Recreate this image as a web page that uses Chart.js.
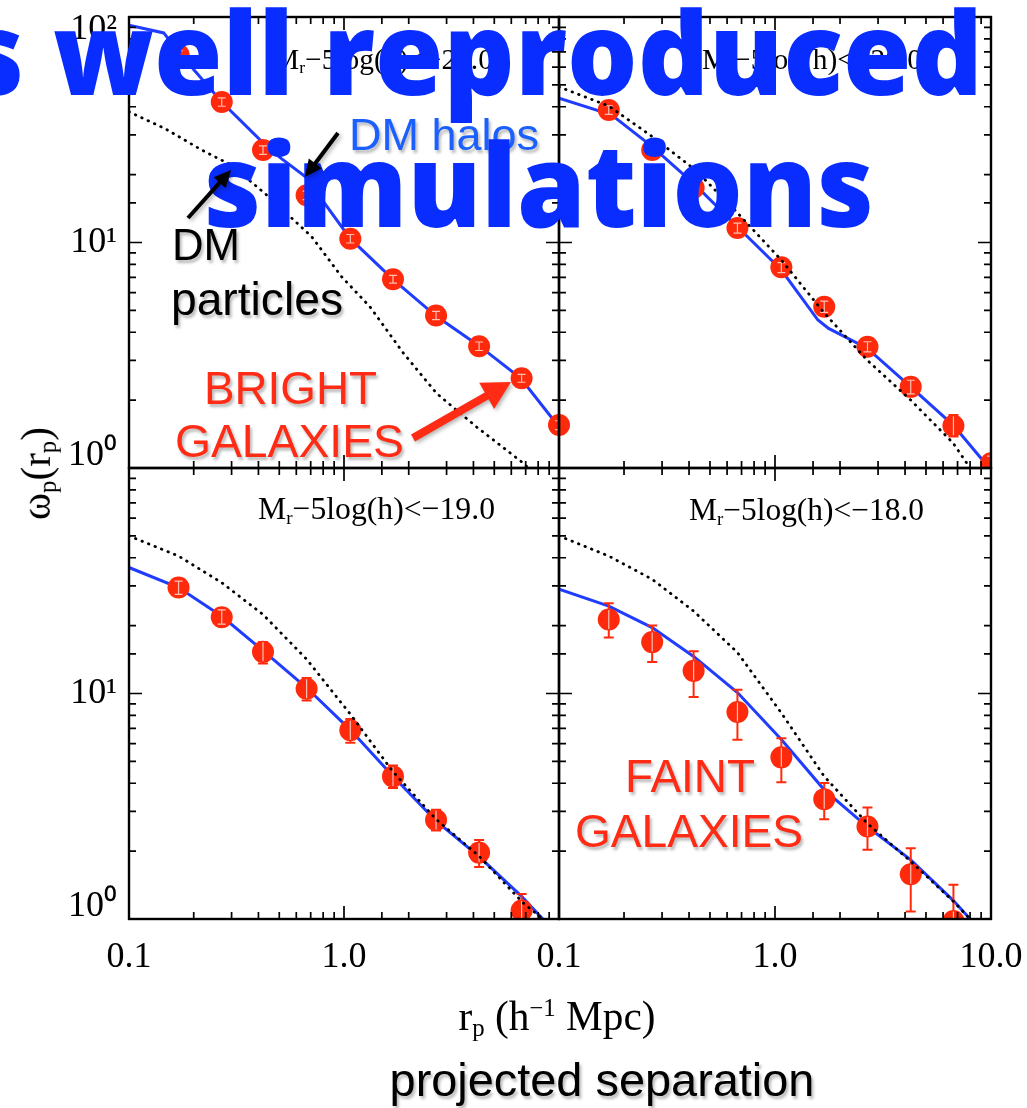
<!DOCTYPE html>
<html>
<head>
<meta charset="utf-8">
<title>projected correlation function</title>
<script src="https://cdn.jsdelivr.net/npm/chart.js@4/dist/chart.umd.min.js"></script>
<style>
  html, body { margin: 0; padding: 0; background: #fff; }
  #page { position: relative; width: 1027px; height: 1108px; overflow: hidden; background: #fff; }
  #page canvas { position: absolute; left: -40px; top: -40px; }
  .t { position: absolute; left: 0; top: 0; white-space: nowrap; line-height: 1; }
  .bl { display: inline-block; width: 0; height: 0; }
  .serif { font-family: "Liberation Serif", "DejaVu Serif", serif; color: #000; }
  .sans { font-family: "Liberation Sans", Arial, sans-serif; color: #000; text-shadow: 2px 3px 3px rgba(0,0,0,0.28); }
  .red { color: #ff2b14; }
  .title { font-family: "Open Sans", sans-serif; font-weight: 800; color: #0a2dff; }
  sub { font-size: 0.6em; vertical-align: -0.25em; line-height: 0; }
  sup { font-size: 0.6em; vertical-align: 0.55em; line-height: 0; }
  #arrows { position: absolute; left: 0; top: 0; filter: drop-shadow(2px 2px 2px rgba(0,0,0,0.3)); }
</style>
</head>
<body>
<div id="page">
  <canvas id="cTL" width="1107" height="1188"></canvas>
  <canvas id="cTR" width="1107" height="1188"></canvas>
  <canvas id="cBL" width="1107" height="1188"></canvas>
  <canvas id="cBR" width="1107" height="1188"></canvas>

  <div class="t serif" id="labTL">M<sub>r</sub>−5log(h)&lt;−21.0</div>
  <div class="t serif" id="labTR">M<sub>r</sub>−5log(h)&lt;−20.0</div>
  <div class="t serif" id="labBL">M<sub>r</sub>−5log(h)&lt;−19.0</div>
  <div class="t serif" id="labBR">M<sub>r</sub>−5log(h)&lt;−18.0</div>

  <div class="t serif" id="xtitle">r<sub>p</sub> (h<sup>−1</sup> Mpc)</div>
  <div class="t serif" id="ytitle">ω<sub>p</sub>(r<sub>p</sub>)</div>
  <div class="t sans" id="proj">projected separation</div>

  <div class="t sans" id="halos" style="color:#1c5fff">DM halos</div>
  <div class="t sans" id="dm1">DM</div>
  <div class="t sans" id="dm2">particles</div>
  <div class="t sans red" id="br1">BRIGHT</div>
  <div class="t sans red" id="br2">GALAXIES</div>
  <div class="t sans red" id="fa1">FAINT</div>
  <div class="t sans red" id="fa2">GALAXIES</div>

  <div class="t title" id="title1"><span>s </span><span class="m">well reproduced</span></div>
  <div class="t title" id="title2">simulations</div>

  <svg id="arrows" width="1027" height="1108"></svg>
</div>

<script>
// separations of the measured points (h^-1 Mpc)
const rp = [0.17, 0.27, 0.42, 0.67, 1.07, 1.69, 2.68, 4.25, 6.7, 10.0];

// Mr-5log(h) < -21.0
const wp21 = [68, 42, 25.7, 16.2, 10.4, 6.87, 4.75, 3.47, 2.5, 1.55];
const lo21 = [65, 40.2, 24.6, 15.5, 9.95, 6.6, 4.55, 3.32, 2.4, 1.48];
const hi21 = [71, 43.8, 26.8, 16.9, 10.85, 7.15, 4.95, 3.62, 2.6, 1.62];
const haloX21 = [0.1, 0.145, 0.17, 0.27, 0.445, 0.51, 0.66, 1.07, 1.69, 2.68, 4.27, 6.64, 10];
const haloY21 = [92, 85, 70, 42, 26.2, 23.6, 19.6, 10.4, 6.87, 4.72, 3.47, 2.5, 1.52];
const dotX21 = [0.1, 0.147, 0.218, 0.30, 0.445, 0.708, 0.975, 1.32, 1.89, 2.70, 4.14, 6.83, 7.6];
const dotY21 = [38, 32, 25.7, 22, 16, 10.6, 7.05, 5.19, 3.23, 2.14, 1.52, 1.05, 0.95];

// Mr-5log(h) < -20.0
const wp20 = [38.7, 25.7, 17.5, 11.6, 7.76, 5.19, 3.45, 2.29, 1.54, 1.05];
const lo20 = [37.0, 24.4, 16.6, 11.0, 7.35, 4.9, 3.27, 2.13, 1.38, 0.97];
const hi20 = [40.4, 27.0, 18.4, 12.2, 8.15, 5.5, 3.63, 2.45, 1.72, 1.13];
const haloX20 = [0.1, 0.175, 0.27, 0.427, 0.67, 1.07, 1.58, 1.77, 2.67, 4.25, 6.68, 9.4, 11];
const haloY20 = [43.6, 36.8, 26.6, 18, 11.75, 7.55, 4.53, 4.16, 3.4, 2.29, 1.55, 1.05, 0.85];
const dotX20 = [0.1, 0.17, 0.27, 0.427, 0.653, 1.07, 1.69, 2.67, 4.25, 6.68, 8.0, 9.0];
const dotY20 = [49, 40.3, 29.5, 21, 13.9, 8.36, 4.87, 3.01, 2.0, 1.29, 1.0, 0.88];

// Mr-5log(h) < -19.0
const wp19 = [29.5, 21.8, 15.3, 10.5, 6.87, 4.29, 2.75, 1.97, 1.09];
const lo19 = [27.5, 20.3, 13.6, 9.3, 6.05, 3.81, 2.47, 1.70, 0.9];
const hi19 = [31.5, 23.5, 16.9, 11.7, 7.7, 4.79, 3.05, 2.24, 1.29];
const haloX19 = [0.1, 0.17, 0.27, 0.42, 0.67, 1.07, 1.69, 2.68, 4.25, 6.7, 8.41, 9.5];
const haloY19 = [36.2, 29.5, 22.0, 15.5, 10.6, 6.9, 4.3, 2.72, 1.89, 1.26, 1.0, 0.88];
const dotX19 = [0.1, 0.17, 0.27, 0.42, 0.67, 1.07, 1.69, 2.68, 4.25, 6.8, 8.4, 9.5];
const dotY19 = [50, 40.7, 31, 22.4, 14.2, 8.1, 4.5, 2.77, 1.9, 1.18, 1.0, 0.88];

// Mr-5log(h) < -18.0
const wp18 = [21.3, 16.9, 12.6, 8.28, 5.21, 3.40, 2.57, 1.58, 0.98];
const lo18 = [17.7, 13.8, 9.65, 6.24, 4.04, 2.77, 2.03, 1.08, 0.6];
const hi18 = [25.1, 20.0, 15.4, 10.4, 6.34, 4.01, 3.12, 2.06, 1.42];
const haloX18 = [0.1, 0.17, 0.27, 0.42, 0.67, 1.07, 1.69, 2.67, 4.25, 6.68, 8.0, 9.5];
const haloY18 = [29, 24.4, 19.6, 14.6, 10.1, 6.25, 3.74, 2.57, 1.83, 1.21, 1.0, 0.82];
const dotX18 = [0.1, 0.17, 0.27, 0.42, 0.67, 1.07, 1.69, 2.67, 4.25, 6.68, 8.0, 9.5];
const dotY18 = [50, 40.7, 32.1, 23.2, 15.2, 8.2, 4.29, 2.66, 1.8, 1.2, 1.0, 0.82];

const xTickText = { '-1': '0.1', '0': '1.0', '1': '10.0' };
const yTickText = { '0': '10⁰', '1': '10¹', '2': '10²' };

//

const OFF = 40, PAGE_W = 1027, PAGE_H = 1108;
const RED = '#ff2a0c';

const decade = (v) => {
  const l = Math.log10(v);
  return Math.abs(l - Math.round(l)) < 1e-6 ? Math.round(l) : null;
};
const pts = (xs, ys) => xs.map((x, i) => ({ x: x, y: ys[i] }));

const errInfo = {};

const clipArea = (ctx, a) => {
  ctx.beginPath();
  ctx.rect(a.left, a.top, a.right - a.left, a.bottom - a.top);
  ctx.clip();
};

// error bars: red under the dots, pale over them
const errBars = {
  id: 'errBars',
  beforeDatasetDraw(chart, args) {
    const e = errInfo[chart.canvas.id];
    if (!e || args.index !== 1) return;
    const ctx = chart.ctx, xs = chart.scales.x, ys = chart.scales.y;
    ctx.save();
    clipArea(ctx, chart.chartArea);
    ctx.strokeStyle = RED;
    ctx.lineWidth = 2;
    ctx.beginPath();
    e.y.forEach((v, i) => {
      const px = xs.getPixelForValue(e.x[i]);
      const t = ys.getPixelForValue(e.hi[i]), b = ys.getPixelForValue(e.lo[i]);
      ctx.moveTo(px, t); ctx.lineTo(px, b);
      ctx.moveTo(px - 5, t); ctx.lineTo(px + 5, t);
      ctx.moveTo(px - 5, b); ctx.lineTo(px + 5, b);
    });
    ctx.stroke();
    ctx.restore();
  },
  afterDatasetDraw(chart, args) {
    const e = errInfo[chart.canvas.id];
    if (!e || args.index !== 1) return;
    const ctx = chart.ctx, xs = chart.scales.x, ys = chart.scales.y;
    const r = 9.5;
    ctx.save();
    clipArea(ctx, chart.chartArea);
    ctx.strokeStyle = 'rgba(255,200,190,0.95)';
    ctx.lineWidth = 1.2;
    ctx.beginPath();
    e.y.forEach((v, i) => {
      const px = xs.getPixelForValue(e.x[i]), cy = ys.getPixelForValue(v);
      const t = ys.getPixelForValue(e.hi[i]), b = ys.getPixelForValue(e.lo[i]);
      const tt = Math.max(t, cy - r), bb = Math.min(b, cy + r);
      ctx.moveTo(px, tt); ctx.lineTo(px, bb);
      if (t >= cy - r) { ctx.moveTo(px - 4, t); ctx.lineTo(px + 4, t); }
      if (b <= cy + r) { ctx.moveTo(px - 4, b); ctx.lineTo(px + 4, b); }
    });
    ctx.stroke();
    ctx.restore();
  },
};

// box and inward ticks on all four sides
const frameTicks = {
  id: 'frameTicks',
  afterDraw(chart) {
    const ctx = chart.ctx, a = chart.chartArea;
    const xs = chart.scales.x, ys = chart.scales.y;
    ctx.save();
    ctx.strokeStyle = '#000';
    ctx.lineWidth = 1.7;
    ctx.beginPath();
    xs.ticks.forEach((t) => {
      const px = xs.getPixelForValue(t.value);
      const len = decade(t.value) !== null ? 13 : 7;
      ctx.moveTo(px, a.bottom); ctx.lineTo(px, a.bottom - len);
      ctx.moveTo(px, a.top); ctx.lineTo(px, a.top + len);
    });
    ys.ticks.forEach((t) => {
      const py = ys.getPixelForValue(t.value);
      const len = decade(t.value) !== null ? 13 : 7;
      ctx.moveTo(a.left, py); ctx.lineTo(a.left + len, py);
      ctx.moveTo(a.right, py); ctx.lineTo(a.right - len, py);
    });
    ctx.stroke();
    ctx.lineWidth = 2.4;
    ctx.strokeRect(a.left, a.top, a.right - a.left, a.bottom - a.top);
    ctx.restore();
  },
};

Chart.register(errBars, frameTicks);

const makePanel = (id, area, p) => {
  const yW = p.yCb ? 100 : 0, xH = p.xCb ? 60 : 0;
  errInfo[id] = { x: rp, y: p.wp, lo: p.lo, hi: p.hi };
  const tickFont = { family: 'Liberation Serif', size: 36, lineHeight: 0.7 };
  return new Chart(document.getElementById(id), {
    type: 'scatter',
    data: {
      datasets: [
        {
          data: pts(p.dotX, p.dotY), showLine: true, borderColor: '#000', borderWidth: 2.8,
          borderDash: [0.5, 6.5], borderCapStyle: 'round', pointRadius: 0, order: 0,
        },
        {
          data: pts(rp.slice(0, p.wp.length), p.wp), pointRadius: 11, pointBorderWidth: 0,
          backgroundColor: RED, borderColor: RED, order: 1, clip: p.clip || 0,
        },
        {
          data: pts(p.haloX, p.haloY), showLine: true, borderColor: '#1f3cff', borderWidth: 3,
          pointRadius: 0, order: 2,
        },
      ],
    },
    options: {
      responsive: false,
      animation: false,
      events: [],
      layout: {
        autoPadding: false,
        padding: {
          left: area.l + OFF - yW,
          top: area.t + OFF,
          right: PAGE_W + OFF - area.r,
          bottom: PAGE_H + OFF - area.b - xH,
        },
      },
      plugins: { legend: { display: false }, tooltip: { enabled: false } },
      scales: {
        x: {
          type: 'logarithmic', min: 0.1, max: 10, position: 'bottom',
          grid: { display: false, drawTicks: false }, border: { display: false },
          ticks: {
            display: !!p.xCb, autoSkip: false, maxRotation: 0, minRotation: 0, padding: 26,
            color: '#000', font: tickFont, callback: p.xCb || (() => ''),
          },
          afterFit: (s) => { s.height = xH; },
        },
        y: {
          type: 'logarithmic', min: 1, max: 100, position: 'left',
          grid: { display: false, drawTicks: false }, border: { display: false },
          ticks: {
            display: !!p.yCb, autoSkip: false, padding: 12,
            color: '#000', font: tickFont, callback: p.yCb || (() => ''),
          },
          afterFit: (s) => { s.width = yW; },
        },
      },
    },
  });
};

const yLabTop = (v) => {
  const d = decade(v);
  if (d === 2) return ['', yTickText[2]];
  if (d === 1) return yTickText[1];
  if (d === 0) return [yTickText[0], ''];
  return '';
};
const yLabBottom = (v) => {
  const d = decade(v);
  if (d === 1) return yTickText[1];
  if (d === 0) return [yTickText[0], ''];
  return '';
};
const xLabLeft = (v) => {
  const d = decade(v);
  return d === -1 || d === 0 ? xTickText[d] : '';
};
const xLabRight = (v) => {
  const d = decade(v);
  return d === null ? '' : xTickText[d];
};

makePanel('cTL', { l: 129, t: 17, r: 559, b: 468 }, {
  wp: wp21, lo: lo21, hi: hi21, haloX: haloX21, haloY: haloY21, dotX: dotX21, dotY: dotY21,
  yCb: yLabTop, clip: { left: 0, top: 0, right: 12, bottom: 0 },
});
makePanel('cTR', { l: 559, t: 17, r: 991, b: 468 }, {
  wp: wp20, lo: lo20, hi: hi20, haloX: haloX20, haloY: haloY20, dotX: dotX20, dotY: dotY20,
});
makePanel('cBL', { l: 129, t: 468, r: 559, b: 919 }, {
  wp: wp19, lo: lo19, hi: hi19, haloX: haloX19, haloY: haloY19, dotX: dotX19, dotY: dotY19,
  yCb: yLabBottom, xCb: xLabLeft,
});
makePanel('cBR', { l: 559, t: 468, r: 991, b: 919 }, {
  wp: wp18, lo: lo18, hi: hi18, haloX: haloX18, haloY: haloY18, dotX: dotX18, dotY: dotY18,
  xCb: xLabRight,
});

// text placement: fit width, then put the baseline where it belongs
const place = (id, o) => {
  const el = document.getElementById(id);
  const mark = document.createElement('span');
  mark.className = 'bl';
  el.appendChild(mark);
  const m = el.querySelector('.m') || el;
  if (o.w) {
    el.style.fontSize = '100px';
    const w0 = m.getBoundingClientRect().width;
    el.style.fontSize = (100 * o.w / w0).toFixed(2) + 'px';
  }
  el.style.left = '0px';
  el.style.top = '0px';
  const eb = el.getBoundingClientRect(), mb = m.getBoundingClientRect();
  const base = mark.getBoundingClientRect().top - eb.top;
  const x = o.cx !== undefined ? o.cx - mb.width / 2 : o.x;
  el.style.left = (x - (mb.left - eb.left)) + 'px';
  el.style.top = (o.base - base) + 'px';
  if (o.sy) {
    el.style.transformOrigin = '0px ' + base + 'px';
    el.style.transform = 'scaleY(' + o.sy + ')';
  }
};

place('title1', { x: 53, base: 95, w: 930, sy: 1.04 });
place('title2', { x: 204, base: 227, w: 670, sy: 1.04 });
place('halos', { x: 349, base: 150, w: 190 });
place('dm1', { x: 172, base: 260, w: 68 });
place('dm2', { x: 171, base: 315, w: 172 });
place('br1', { x: 204, base: 404, w: 173 });
place('br2', { x: 175, base: 457, w: 229 });
place('fa1', { x: 625, base: 792, w: 130 });
place('fa2', { x: 575, base: 847, w: 228 });
place('labTL', { x: 273, base: 69, w: 220 });
place('labTR', { x: 702, base: 69, w: 220 });
place('labBL', { x: 258, base: 519, w: 237 });
place('labBR', { x: 689, base: 520, w: 235 });
place('xtitle', { cx: 557, base: 1030, w: 197 });
place('proj', { cx: 602, base: 1096, w: 425 });

const yt = document.getElementById('ytitle');
yt.style.fontSize = '100px';
yt.style.fontSize = (100 * 93 / yt.offsetWidth).toFixed(2) + 'px';
yt.style.left = (36 - yt.offsetWidth / 2) + 'px';
yt.style.top = (473 - yt.offsetHeight / 2) + 'px';
yt.style.transform = 'rotate(-90deg)';

// arrows
const svg = document.getElementById('arrows');
const arrow = (x1, y1, x2, y2, color, w, hl, hw) => {
  const dx = x2 - x1, dy = y2 - y1, len = Math.hypot(dx, dy);
  const ux = dx / len, uy = dy / len, nx = -uy, ny = ux;
  const bx = x2 - ux * hl, by = y2 - uy * hl;
  const ns = 'http://www.w3.org/2000/svg';
  const line = document.createElementNS(ns, 'line');
  line.setAttribute('x1', x1); line.setAttribute('y1', y1);
  line.setAttribute('x2', bx + ux * 2); line.setAttribute('y2', by + uy * 2);
  line.setAttribute('stroke', color); line.setAttribute('stroke-width', w);
  svg.appendChild(line);
  const head = document.createElementNS(ns, 'polygon');
  head.setAttribute('points', [x2, y2, bx + nx * hw, by + ny * hw, bx - nx * hw, by - ny * hw].join(' '));
  head.setAttribute('fill', color);
  svg.appendChild(head);
};
arrow(338, 133, 305, 177, '#000', 4, 17, 8);
arrow(188, 218, 231, 170, '#000', 4, 17, 8);
arrow(413, 438, 511, 382, '#ff2b14', 8, 28, 15);
</script>
</body>
</html>
